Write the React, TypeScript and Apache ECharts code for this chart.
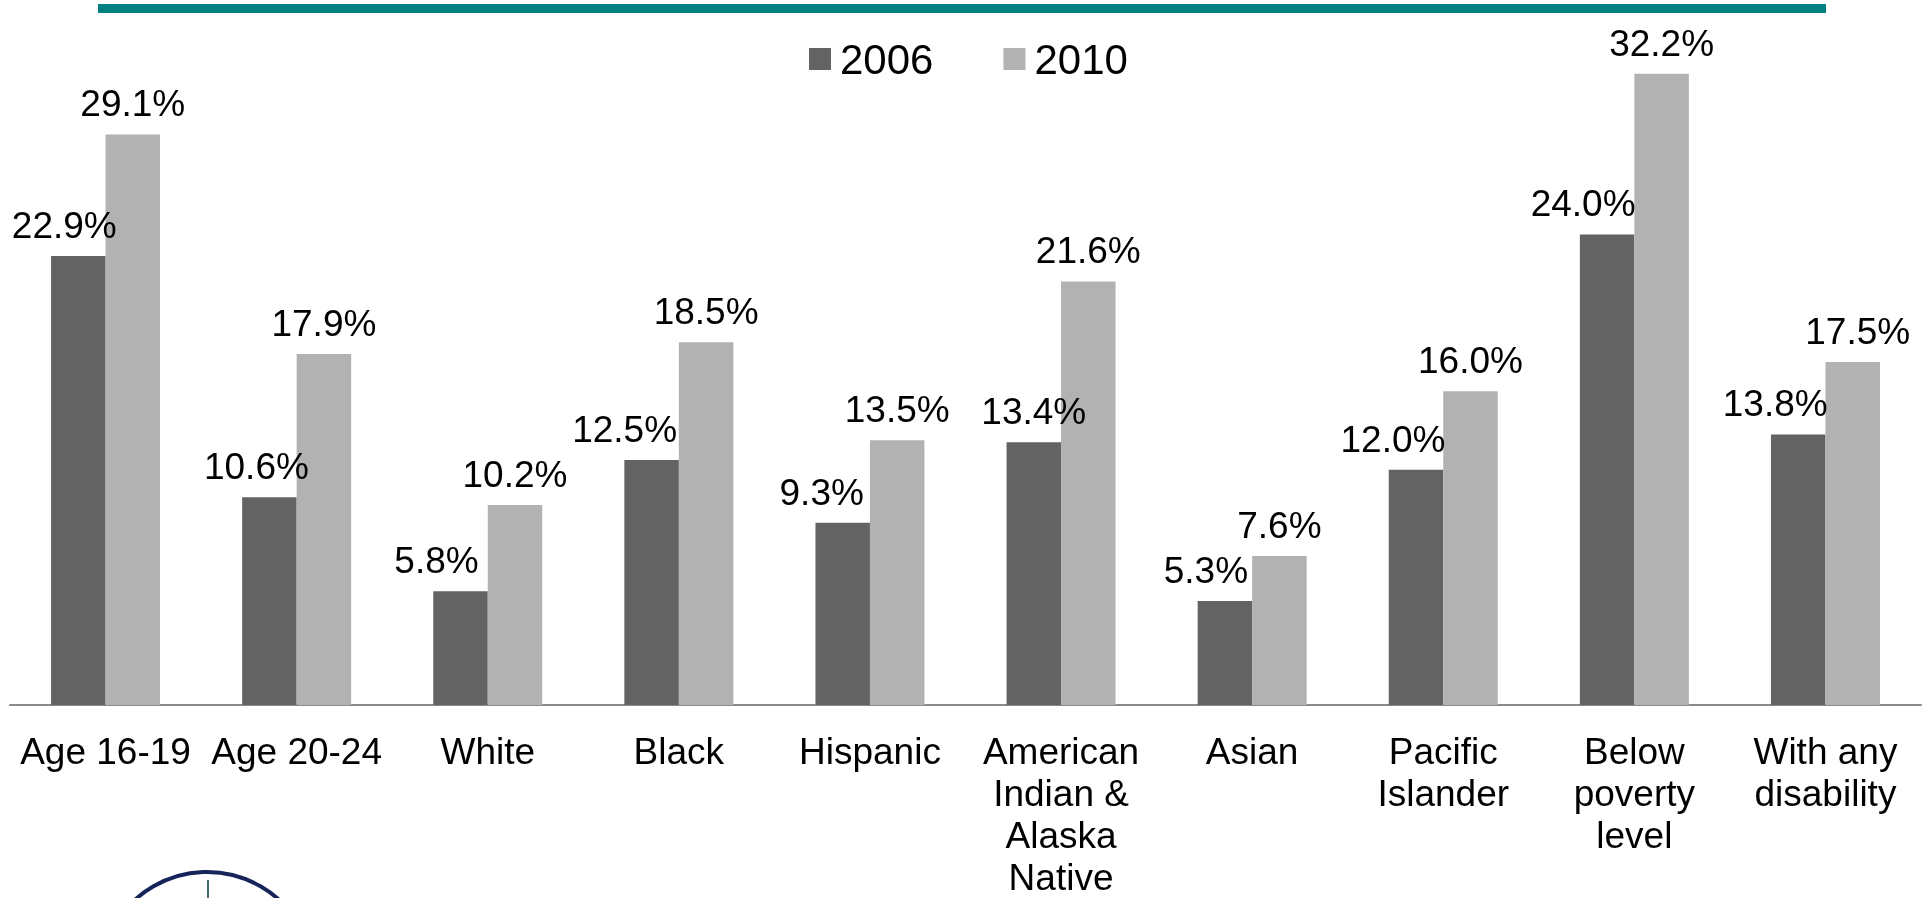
import React, { useEffect, useRef } from "react";
import * as echarts from "echarts";

const categories = [
  "Age 16-19",
  "Age 20-24",
  "White",
  "Black",
  "Hispanic",
  "American\nIndian &\nAlaska\nNative",
  "Asian",
  "Pacific\nIslander",
  "Below\npoverty\nlevel",
  "With any\ndisability",
];
const seriesNames = ["2006", "2010"];
const values2006 = [22.9, 10.6, 5.8, 12.5, 9.3, 13.4, 5.3, 12.0, 24.0, 13.8];
const values2010 = [29.1, 17.9, 10.2, 18.5, 13.5, 21.6, 7.6, 16.0, 32.2, 17.5];

// horizontal nudges of the value labels (px), as placed in the original
const labelShift2006 = [-14, -13, -24, -27, -21, 0, -19, -23, -24, -23];
const labelShift2010 = [0, 0, 0, 0, 0, 0, 0, 0, 0, 5];

const FONT = "'Liberation Sans', Arial, Helvetica, sans-serif";

export default function App() {
  const ref = useRef<HTMLDivElement>(null);
  useEffect(() => {
    if (!ref.current) return;
    const chart = echarts.init(ref.current, null, { renderer: "svg" });
    const mk = (vals: number[], shifts: number[]) =>
      vals.map((v, i) => ({ value: v, label: { offset: [shifts[i], 0] } }));
    const labelCfg = {
      show: true,
      position: "top",
      distance: 12,
      fontSize: 37,
      lineHeight: 37,
      color: "#000",
      fontFamily: FONT,
      formatter: (p: any) => Number(p.value).toFixed(1) + "%",
    };
    chart.setOption({
      animation: false,
      textStyle: { fontFamily: FONT },
      grid: { left: 10, right: 10, top: 18.75, bottom: 188, containLabel: false },
      legend: {
        data: seriesNames,
        left: 804,
        top: 32,
        itemWidth: 22,
        itemHeight: 22,
        itemGap: 70,
        icon: "rect",
        textStyle: { fontSize: 42, lineHeight: 44, color: "#000", fontFamily: FONT, padding: [0, 0, 0, 4] },
      },
      xAxis: {
        type: "category",
        data: categories,
        axisLine: { lineStyle: { color: "#8a8a8a", width: 2 } },
        axisTick: { length: 12, lineStyle: { color: "#8a8a8a", width: 1.5 } },
        axisLabel: {
          interval: 0,
          fontSize: 37,
          lineHeight: 42,
          color: "#000",
          margin: 25,
          fontFamily: FONT,
        },
      },
      yAxis: { type: "value", min: 0, max: 35, show: false, splitLine: { show: false } },
      series: [
        {
          name: seriesNames[0],
          type: "bar",
          barWidth: 54.5,
          barGap: "0%",
          itemStyle: { color: "#636363" },
          label: labelCfg,
          data: mk(values2006, labelShift2006),
        },
        {
          name: seriesNames[1],
          type: "bar",
          barWidth: 54.5,
          barGap: "0%",
          itemStyle: { color: "#b2b2b2" },
          label: labelCfg,
          data: mk(values2010, labelShift2010),
        },
      ],
      graphic: [
        { type: "rect", shape: { x: 98, y: 4, width: 1728, height: 9 }, style: { fill: "#008080" } },
        { type: "circle", shape: { cx: 207, cy: 979, r: 107 }, style: { fill: "none", stroke: "#16245a", lineWidth: 4 } },
        { type: "line", shape: { x1: 208, y1: 880, x2: 208, y2: 898 }, style: { stroke: "#3f6b6b", lineWidth: 2 } },
      ],
    });
    return () => chart.dispose();
  }, []);
  return <div ref={ref} style={{ position: "fixed", left: 0, top: 0, width: 1931, height: 898 }} />;
}
